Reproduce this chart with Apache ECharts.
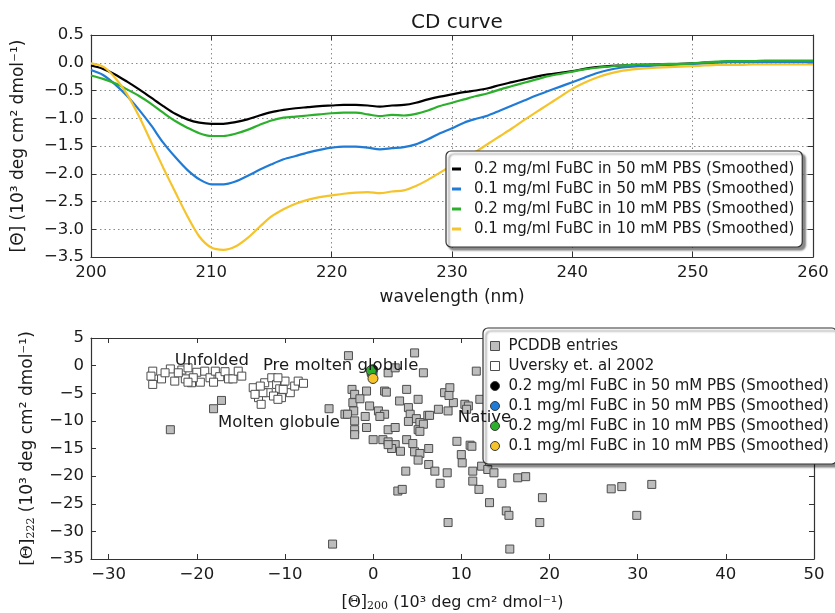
<!DOCTYPE html>
<html>
<head>
<meta charset="utf-8">
<script src="https://cdn.jsdelivr.net/npm/echarts@6/dist/echarts.min.js"></script>
<style>
html,body{margin:0;padding:0;background:#fff;}
#chart{width:835px;height:613px;}
</style>
</head>
<body>
<div id="chart"></div>
<script>
// ---------- Data ----------
const wavelengths = [];
for (let w = 200; w <= 260; w++) wavelengths.push(w);

const seriesNames = [
  '0.2 mg/ml FuBC in 50 mM PBS (Smoothed)',
  '0.1 mg/ml FuBC in 50 mM PBS (Smoothed)',
  '0.2 mg/ml FuBC in 10 mM PBS (Smoothed)',
  '0.1 mg/ml FuBC in 10 mM PBS (Smoothed)'
];
const seriesColors = ['#000000', '#1f7bd6', '#2cb02c', '#f5c32a'];

const cd_02_50 = [-0.05,-0.11,-0.21,-0.34,-0.48,-0.63,-0.78,-0.92,-1.02,-1.08,-1.10,-1.10,-1.07,-1.02,-0.95,-0.89,-0.85,-0.82,-0.80,-0.78,
  -0.77,-0.76,-0.76,-0.77,-0.79,-0.77,-0.76,-0.72,-0.66,-0.61,-0.57,-0.53,-0.50,-0.46,-0.40,-0.35,-0.30,-0.25,-0.21,-0.18,
  -0.15,-0.11,-0.08,-0.06,-0.05,-0.04,-0.04,-0.03,-0.03,-0.02,-0.01,0.00,0.01,0.02,0.02,0.02,0.02,0.02,0.02,0.02,0.02];
const cd_01_50 = [-0.13,-0.22,-0.39,-0.60,-0.85,-1.13,-1.44,-1.70,-1.93,-2.10,-2.19,-2.19,-2.14,-2.04,-1.93,-1.83,-1.74,-1.68,-1.62,-1.57,
  -1.53,-1.51,-1.51,-1.53,-1.56,-1.54,-1.52,-1.47,-1.38,-1.27,-1.18,-1.08,-1.01,-0.95,-0.86,-0.77,-0.68,-0.59,-0.51,-0.43,
  -0.35,-0.27,-0.19,-0.13,-0.09,-0.07,-0.06,-0.05,-0.04,-0.03,-0.02,-0.01,0.00,0.01,0.01,0.01,0.01,0.01,0.01,0.01,0.01];
const cd_02_10 = [-0.23,-0.29,-0.37,-0.48,-0.60,-0.74,-0.90,-1.05,-1.17,-1.27,-1.32,-1.32,-1.28,-1.21,-1.12,-1.04,-0.99,-0.97,-0.95,-0.93,
  -0.91,-0.90,-0.90,-0.93,-0.96,-0.94,-0.95,-0.92,-0.86,-0.78,-0.72,-0.66,-0.60,-0.55,-0.48,-0.42,-0.36,-0.30,-0.24,-0.20,
  -0.16,-0.12,-0.09,-0.07,-0.05,-0.04,-0.03,-0.03,-0.02,-0.02,-0.01,0.01,0.02,0.03,0.03,0.03,0.04,0.04,0.04,0.04,0.04];
const cd_01_10 = [-0.01,-0.07,-0.27,-0.57,-0.97,-1.43,-1.89,-2.33,-2.76,-3.13,-3.33,-3.37,-3.31,-3.16,-2.96,-2.77,-2.64,-2.54,-2.47,-2.42,
  -2.39,-2.36,-2.34,-2.33,-2.35,-2.32,-2.30,-2.22,-2.11,-1.98,-1.85,-1.72,-1.60,-1.46,-1.32,-1.18,-1.03,-0.89,-0.75,-0.61,
  -0.47,-0.36,-0.27,-0.20,-0.15,-0.12,-0.10,-0.09,-0.08,-0.07,-0.06,-0.05,-0.04,-0.04,-0.04,-0.03,-0.03,-0.03,-0.03,-0.03,-0.03];
const cdCurves = [cd_02_50, cd_01_50, cd_02_10, cd_01_10];

// [theta200, theta222] for each FuBC sample
const fubcTheta200 = [-0.04, -0.12, -0.22, -0.02];
const fubcTheta222 = [-0.75, -1.50, -0.90, -2.33];

const pcddbX = [-23.0,-18.1,-17.2,-5.0,-4.6,-2.8,4.7,11.7,1.7,2.5,5.7,-2.4,-2.1,-0.75,1.3,3.8,5.1,3.0,-2.3,-1.5,
  -0.4,0.6,1.3,-3.2,-2.2,-0.9,4.0,4.2,4.9,4.0,6.2,7.4,8.1,8.7,9.1,10.4,8.5,-2.1,-2.1,-0.75,
  1.7,2.5,5.3,5.1,0.0,1.1,1.7,2.5,3.8,4.5,9.5,11.0,2.1,3.1,4.7,5.3,6.3,5.1,6.3,7.0,
  8.4,7.6,3.7,2.8,3.3,8.5,10.0,10.1,11.2,11.3,11.3,12.0,12.3,13.0,13.7,14.6,13.2,15.1,15.4,15.5,
  16.4,17.3,19.2,18.9,27.0,28.2,29.9,31.6,10.8,8.6,12.1,10.6,6.4,5.7,5.3,-2.9,-2.1,0.76,1.5,1.7];
const pcddbY = [-11.6,-7.8,-6.3,-7.8,-32.3,1.8,2.3,-1.0,-1.3,-0.4,-1.3,-4.3,-5.2,-4.6,-4.6,-4.3,-6.1,-6.4,-6.7,-6.0,
  -7.3,-8.2,-8.8,-8.8,-8.2,-9.2,-7.6,-8.8,-9.6,-10.1,-9.0,-7.9,-4.9,-4.0,-6.7,-7.0,-8.2,-11.6,-12.5,-11.2,
  -11.6,-11.2,-10.3,-11.6,-13.4,-13.4,-13.8,-14.3,-13.4,-14.1,-13.7,-14.4,-15.0,-15.5,-15.6,-15.9,-15.0,-17.1,-17.9,-19.1,
  -19.4,-21.3,-19.1,-22.7,-22.4,-28.4,-16.1,-17.6,-14.6,-19.1,-20.9,-22.4,-18.2,-18.8,-19.4,-21.3,-24.8,-26.3,-27.1,-33.2,
  -20.3,-20.1,-23.9,-28.4,-22.3,-21.9,-27.1,-21.5,-7.3,-5.4,-6.1,-7.9,-9.0,-10.6,-11.9,-8.8,-10.0,-9.2,-4.8,-14.3];

const uverskyX = [-25.0,-25.2,-25.0,-24.0,-23.0,-22.5,-21.7,-21.3,-20.6,-20.0,-19.6,-19.1,-18.5,-17.9,-17.4,-16.8,-16.4,-15.9,-15.3,-14.9,
  -21.0,-22.1,-23.6,-20.4,-18.1,-21.0,
  -13.6,-13.0,-12.7,-12.3,-11.9,-11.5,-10.95,-10.6,-10.4,-10.0,-9.4,-8.9,-8.5,-7.9,-10.8,-12.5,-13.4,-10.2,-11.3,-10.8,-12.8];
const uverskyY = [-1.0,-1.9,-3.4,-2.4,-0.6,-2.8,-0.8,-2.4,-3.1,-1.2,-3.0,-1.0,-2.2,-1.0,-2.0,-1.1,-2.4,-2.4,-1.0,-1.9,
  -0.4,-1.3,-1.3,-2.2,-3.0,-3.0,
  -4.0,-5.8,-7.0,-3.1,-4.9,-2.2,-3.4,-4.2,-5.8,-2.8,-4.9,-3.7,-2.8,-3.2,-2.2,-4.9,-5.2,-4.3,-5.5,-6.1,-3.7];

const annotationTexts = ['Unfolded', 'Pre molten globule', 'Molten globule', 'Native'];
const annotationX = [-22.5, -12.5, -17.6, 9.6];
const annotationY = [0.9, 0.0, -10.3, -9.5];

const cdXTicks = [200, 210, 220, 230, 240, 250, 260];
const scatterXTicks = [-30, -20, -10, 0, 10, 20, 30, 40, 50];

// ---------- Styling helpers ----------
const FONT = 'DejaVu Sans';
const TXT = '#1a1a1a';
const AX = '#333333';
const fmtMinus = (s) => String(s).replace('-', '\u2212');

const tickIn = {show: true, inside: true, length: 5, lineStyle: {color: AX, width: 1}};
const axLine = {show: true, onZero: false, lineStyle: {color: AX, width: 1.2}};
const labelStyle = {color: TXT, fontFamily: FONT, fontSize: 16.5, margin: 7};
const dotted = {show: true, lineStyle: {color: '#8a8a8a', width: 1, type: [1.5, 3]}};

const chart = echarts.init(document.getElementById('chart'), null, {renderer: 'canvas'});

const lineSeries = seriesNames.map((name, i) => ({
  name: name,
  type: 'line',
  xAxisIndex: 0,
  yAxisIndex: 0,
  showSymbol: false,
  symbol: 'none',
  smooth: 0.3,
  lineStyle: {color: seriesColors[i], width: 2.2},
  itemStyle: {color: seriesColors[i]},
  data: wavelengths.map((w, k) => [w, cdCurves[i][k]]),
  z: 2
}));

const pcddbSeries = {
  name: 'PCDDB entries',
  type: 'scatter',
  xAxisIndex: 2, yAxisIndex: 2,
  symbol: 'rect', symbolSize: 8,
  itemStyle: {color: '#bdbdbd', borderColor: '#4d4d4d', borderWidth: 1, opacity: 1},
  data: pcddbX.map((x, i) => [x, pcddbY[i]]),
  z: 2
};
const uverskySeries = {
  name: 'Uversky et. al 2002',
  type: 'scatter',
  xAxisIndex: 2, yAxisIndex: 2,
  symbol: 'rect', symbolSize: 8,
  itemStyle: {color: '#ffffff', borderColor: '#4d4d4d', borderWidth: 1, opacity: 1},
  data: uverskyX.map((x, i) => [x, uverskyY[i]]),
  z: 2
};
const fubcSeries = seriesNames.map((name, i) => ({
  name: name,
  type: 'scatter',
  xAxisIndex: 2, yAxisIndex: 2,
  symbol: 'circle', symbolSize: 10,
  itemStyle: {color: seriesColors[i], borderColor: '#3a3a3a', borderWidth: 1, opacity: 1},
  data: [[fubcTheta200[i], fubcTheta222[i]]],
  z: 3
}));
const annotationSeries = {
  name: 'annotations',
  type: 'scatter',
  xAxisIndex: 2, yAxisIndex: 2,
  symbolSize: 0,
  silent: true,
  itemStyle: {opacity: 1},
  label: {
    show: true, position: 'right', distance: 0,
    formatter: (p) => p.value[2],
    color: TXT, fontFamily: FONT, fontSize: 16.5
  },
  data: annotationTexts.map((t, i) => [annotationX[i], annotationY[i], t]),
  z: 4
};

const option = {
  backgroundColor: '#ffffff',
  animation: false,
  title: {
    text: 'CD curve',
    left: 452, top: 8, textAlign: 'center',
    textStyle: {color: TXT, fontFamily: FONT, fontSize: 20, fontWeight: 'normal'}
  },
  grid: [
    {left: 91, right: 22, top: 35, height: 222},
    {left: 91, right: 21, top: 338, height: 222}
  ],
  xAxis: [
    { // 0: CD bottom
      type: 'value', gridIndex: 0, min: 200, max: 260, interval: 10, position: 'bottom',
      axisLine: axLine, axisTick: tickIn, splitLine: dotted,
      axisLabel: Object.assign({}, labelStyle),
      name: 'wavelength (nm)', nameLocation: 'middle', nameGap: 32,
      nameTextStyle: {color: TXT, fontFamily: FONT, fontSize: 17}
    },
    { // 1: CD top frame
      type: 'value', gridIndex: 0, min: 200, max: 260, interval: 10, position: 'top',
      axisLine: axLine, axisTick: tickIn, axisLabel: {show: false}, splitLine: {show: false}
    },
    { // 2: scatter bottom
      type: 'value', gridIndex: 1, min: -32, max: 50, position: 'bottom',
      axisLine: axLine,
      axisTick: Object.assign({}, tickIn, {customValues: scatterXTicks}),
      axisLabel: Object.assign({}, labelStyle, {customValues: scatterXTicks, formatter: (v) => fmtMinus(v)}),
      splitLine: {show: false},
      name: '{s|[\u0398]}{sub|200}{n| (10\u00B3 deg cm\u00B2 dmol\u207B\u00B9)}',
      nameLocation: 'middle', nameGap: 34,
      nameTextStyle: {
        color: TXT, fontFamily: FONT, fontSize: 16,
        rich: {
          s: {fontFamily: 'DejaVu Serif', fontSize: 16, color: TXT},
          sub: {fontFamily: 'DejaVu Serif', fontSize: 11, color: TXT, padding: [8, 0, 0, 0]},
          n: {fontFamily: FONT, fontSize: 16, color: TXT}
        }
      }
    },
    { // 3: scatter top frame
      type: 'value', gridIndex: 1, min: -32, max: 50, position: 'top',
      axisLine: axLine,
      axisTick: Object.assign({}, tickIn, {customValues: scatterXTicks}),
      axisLabel: {show: false}, splitLine: {show: false}
    }
  ],
  yAxis: [
    { // 0: CD left
      type: 'value', gridIndex: 0, min: -3.5, max: 0.5, interval: 0.5, position: 'left',
      axisLine: axLine, axisTick: tickIn, splitLine: dotted,
      axisLabel: Object.assign({}, labelStyle, {formatter: (v) => fmtMinus(v.toFixed(1))}),
      name: '[\u0398] (10\u00B3 deg cm\u00B2 dmol\u207B\u00B9)',
      nameLocation: 'middle', nameGap: 64,
      nameTextStyle: {color: TXT, fontFamily: FONT, fontSize: 17}
    },
    { // 1: CD right frame
      type: 'value', gridIndex: 0, min: -3.5, max: 0.5, interval: 0.5, position: 'right',
      axisLine: axLine, axisTick: tickIn, axisLabel: {show: false}, splitLine: {show: false}
    },
    { // 2: scatter left
      type: 'value', gridIndex: 1, min: -35, max: 5, interval: 5, position: 'left',
      axisLine: axLine, axisTick: tickIn, splitLine: {show: false},
      axisLabel: Object.assign({}, labelStyle, {formatter: (v) => fmtMinus(v)}),
      name: '{s|[\u0398]}{sub|222}{n| (10\u00B3 deg cm\u00B2 dmol\u207B\u00B9)}',
      nameLocation: 'middle', nameGap: 54,
      nameTextStyle: {
        color: TXT, fontFamily: FONT, fontSize: 17,
        rich: {
          s: {fontFamily: 'DejaVu Serif', fontSize: 17, color: TXT},
          sub: {fontFamily: 'DejaVu Serif', fontSize: 11, color: TXT, padding: [8, 0, 0, 0]},
          n: {fontFamily: FONT, fontSize: 17, color: TXT}
        }
      }
    },
    { // 3: scatter right frame
      type: 'value', gridIndex: 1, min: -35, max: 5, interval: 5, position: 'right',
      axisLine: axLine, axisTick: tickIn, axisLabel: {show: false}, splitLine: {show: false}
    }
  ],
  legend: [
    {
      orient: 'vertical', left: 446, top: 151,
      padding: [10, 8, 10, 6],
      itemWidth: 9, itemHeight: 3, itemGap: 4,
      backgroundColor: '#ffffff', borderColor: '#333333', borderWidth: 1.2, borderRadius: 5,
      shadowColor: 'rgba(0,0,0,0.45)', shadowBlur: 2, shadowOffsetX: 3, shadowOffsetY: 3,
      selectedMode: false,
      textStyle: {color: TXT, fontFamily: FONT, fontSize: 15, lineHeight: 16, padding: [0, 0, 0, 8]},
      data: seriesNames.map((n, i) => ({name: n, icon: 'rect', itemStyle: {color: seriesColors[i], borderWidth: 0}}))
    },
    {
      orient: 'vertical', left: 483, top: 328,
      padding: [10, 8, 10, 7],
      itemWidth: 9, itemHeight: 9, itemGap: 4,
      backgroundColor: '#ffffff', borderColor: '#333333', borderWidth: 1.2, borderRadius: 5,
      shadowColor: 'rgba(0,0,0,0.45)', shadowBlur: 2, shadowOffsetX: 3, shadowOffsetY: 3,
      selectedMode: false,
      textStyle: {color: TXT, fontFamily: FONT, fontSize: 15, lineHeight: 16, padding: [0, 0, 0, 4]},
      data: [
        {name: 'PCDDB entries', icon: 'rect', itemStyle: {color: '#bdbdbd', borderColor: '#4d4d4d', borderWidth: 1}},
        {name: 'Uversky et. al 2002', icon: 'rect', itemStyle: {color: '#ffffff', borderColor: '#4d4d4d', borderWidth: 1}}
      ].concat(seriesNames.map((n, i) => ({name: n, icon: 'circle', itemStyle: {color: seriesColors[i], borderColor: '#3a3a3a', borderWidth: 1}})))
    }
  ],
  series: lineSeries.concat([uverskySeries, pcddbSeries], fubcSeries, [annotationSeries])
};

chart.setOption(option);
</script>
</body>
</html>
